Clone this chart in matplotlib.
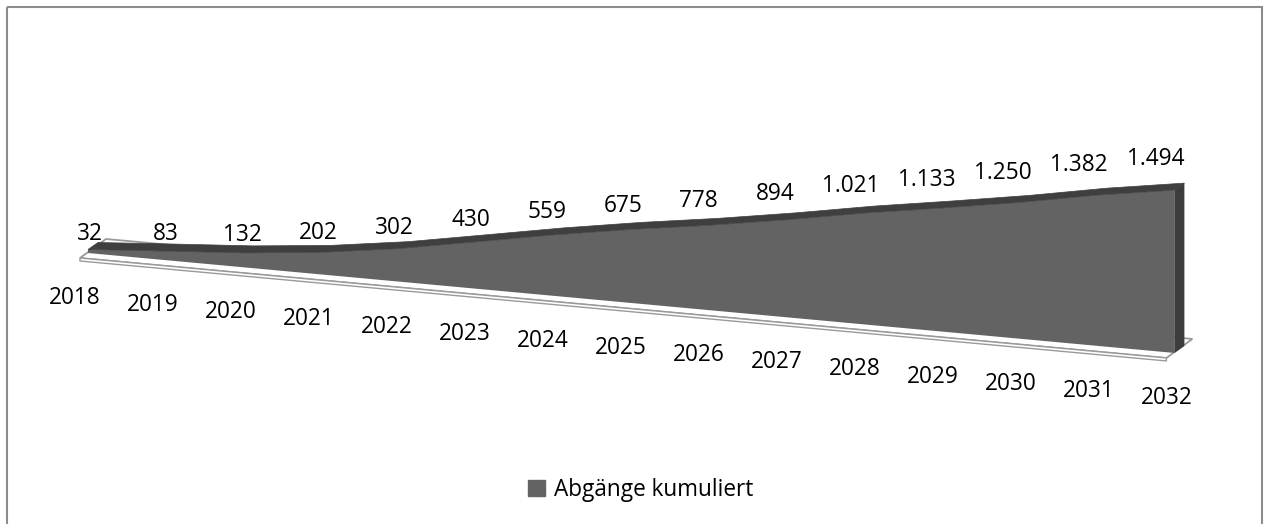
import matplotlib.pyplot as plt
from matplotlib.transforms import Affine2D
from matplotlib.patches import Polygon, Rectangle, Patch

years = [str(y) for y in range(2018, 2033)]
values = [32, 83, 132, 202, 302, 430, 559, 675, 778, 894, 1021, 1133, 1250, 1382, 1494]
value_labels = ['32', '83', '132', '202', '302', '430', '559', '675', '778', '894',
                '1.021', '1.133', '1.250', '1.382', '1.494']
series_name = 'Abgänge kumuliert'

plt.rcParams['font.family'] = ['Open Sans', 'DejaVu Sans']
FS = 16.3

W, H = 1264, 524
fig = plt.figure(figsize=(W / 100, H / 100), dpi=100)
ax = fig.add_axes([0, 0, 1, 1])
ax.set_xlim(0, W)
ax.set_ylim(H, 0)
ax.axis('off')

# chart border
ax.add_patch(Rectangle((7, 7), 1255, 600, fill=False, ec='#8c8c8c', lw=1.5))

n = len(values)
last = n - 1

# oblique "3D" projection: (category index, value) -> canvas pixels
proj = Affine2D.from_values(77.6, 7.14, 0, -0.109, 88, 253)
depth = Affine2D().translate(10, -7)
to_px = proj.transform

# floor slab
fl_front = Affine2D().translate(-8, 5)
fl_back = Affine2D().translate(18, -14)
front = (proj + fl_front).transform([[0, 0], [last, 0]])
back = (proj + fl_back).transform([[last, 0], [0, 0]])
ax.add_patch(Polygon(list(front) + list(back), closed=True, fc='white', ec='#9a9a9a', lw=1.3))
ax.add_patch(Polygon([front[0], front[1], front[1] + [0, 3], front[0] + [0, 3]],
                     closed=True, fc='white', ec='#9a9a9a', lw=1.0))

# area front face
pts = [[i, v] for i, v in enumerate(values)]
face = pts + [[last, 0], [0, 0]]
ax.add_patch(Polygon(face, closed=True, transform=proj + ax.transData,
                     fc='#636363', ec='none'))

# top surface
top_front = to_px(pts)
top_back = (proj + depth).transform(pts)
ax.add_patch(Polygon(list(top_front) + list(top_back[::-1]), closed=True,
                     fc='#3f3f3f', ec='#3f3f3f', lw=0.5))

# right side face
edge = [[last, 0], [last, values[-1]]]
ef = to_px(edge)
eb = (proj + depth).transform(edge)
ax.add_patch(Polygon([ef[0], ef[1], eb[1], eb[0]], closed=True, fc='#3c3c3c', ec='none'))

# value labels
lab_tr = Affine2D.from_values(76.1, 6.04, 0, -0.109, 90, 237) + ax.transData
for i, (v, s) in enumerate(zip(values, value_labels)):
    ax.text(i, v, s, transform=lab_tr, ha='center', va='center', fontsize=FS, color='black')

# category labels
cat_tr = Affine2D.from_values(78, 7.14, 0, 0, 75, 298) + ax.transData
for i, y in enumerate(years):
    ax.text(i, 0, y, transform=cat_tr, ha='center', va='center', fontsize=FS, color='black')

fig.legend(handles=[Patch(color='#636363', label=series_name)], loc='center',
           bbox_to_anchor=(641 / W, 1 - 490 / H), frameon=False, fontsize=FS,
           handlelength=0.75, handleheight=0.75, handletextpad=0.4)

fig.savefig('out.png', dpi=100)
